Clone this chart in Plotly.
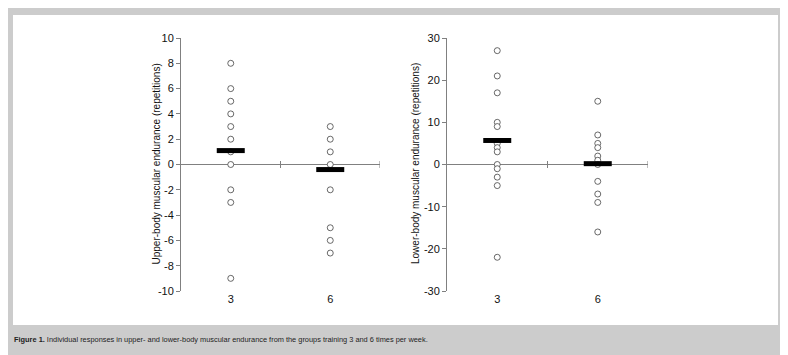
import plotly.graph_objects as go

# ---- data ----
groups = ["3", "6"]
upper_g3 = [8, 6, 5, 4, 3, 2, 1, 0, -2, -3, -9]
upper_g6 = [3, 2, 1, 0, -2, -5, -6, -7]
upper_means = [1.1, -0.4]
lower_g3 = [27, 21, 17, 10, 9, 5, 4, 3, 0, -1, -3, -5, -22]
lower_g6 = [15, 7, 5, 4, 2, 1, 0, -4, -7, -9, -16]
lower_means = [5.7, 0.2]
upper_ticks = list(range(-10, 11, 2))
lower_ticks = list(range(-30, 31, 10))

W, H = 788, 355
OX, OY = 8, 8  # page body margin offset of the plot div


def px(x):
    return (x - OX) / W


def py(y):
    return 1 - (y - OY) / H


fig = go.Figure()


def add_panel(vals3, vals6, means, xa, ya):
    xs = [1] * len(vals3) + [2] * len(vals6)
    ys = vals3 + vals6
    fig.add_trace(go.Scatter(x=xs, y=ys, mode="markers", xaxis=xa, yaxis=ya,
                             marker=dict(symbol="circle", size=6, color="white",
                                         line=dict(color="#444444", width=0.8)),
                             showlegend=False, hoverinfo="y"))
    fig.add_trace(go.Scatter(x=[1, 2], y=means, mode="markers", xaxis=xa, yaxis=ya,
                             marker=dict(symbol="line-ew", size=20,
                                         line=dict(color="black", width=5)),
                             showlegend=False, hoverinfo="y"))
    # small category-boundary ticks on the zero line
    fig.add_trace(go.Scatter(x=[1.5, 2.5], y=[0, 0], mode="markers", xaxis=xa, yaxis=ya,
                             marker=dict(symbol="line-ns", size=5,
                                         line=dict(color="#808080", width=1)),
                             showlegend=False, hoverinfo="skip"))


add_panel(upper_g3, upper_g6, upper_means, "x", "y")
add_panel(lower_g3, lower_g6, lower_means, "x2", "y2")

tfont = dict(family="Liberation Sans, Arial", size=11, color="#111")
ydom = [py(291), py(38)]
xcommon = dict(range=[0.5, 2.5], tickvals=[1, 2], ticktext=groups, showgrid=False,
               zeroline=False, showline=False, ticks="", ticklen=0, automargin=False,
               tickfont=tfont)
ycommon = dict(showgrid=False, zeroline=True, zerolinecolor="#808080", zerolinewidth=1,
               showline=True, linecolor="#808080", linewidth=1, ticks="outside",
               ticklen=4, tickcolor="#808080", automargin=False,
               tickfont=tfont, domain=ydom)

fig.update_layout(
    width=W, height=H,
    margin=dict(l=0, r=0, t=0, b=0, pad=0, autoexpand=False),
    paper_bgcolor="#cccccc", plot_bgcolor="rgba(0,0,0,0)",
    xaxis=dict(domain=[px(181), px(380)], anchor="y", **xcommon),
    xaxis2=dict(domain=[px(447), px(648)], anchor="y2", **xcommon),
    yaxis=dict(range=[-10, 10], tickvals=upper_ticks,
               ticktext=[str(v) for v in upper_ticks], anchor="x", **ycommon),
    yaxis2=dict(range=[-30, 30], tickvals=lower_ticks,
                ticktext=[str(v) for v in lower_ticks], anchor="x2", **ycommon),
    shapes=[dict(type="rect", xref="paper", yref="paper", layer="below",
                 x0=px(13), x1=px(778), y0=py(325), y1=py(15),
                 fillcolor="white", line=dict(width=0))],
    annotations=[
        dict(text="Upper-body muscular endurance (repetitions)", textangle=-90,
             xref="paper", yref="paper", x=px(148), y=py(164), showarrow=False,
             font=dict(family="Liberation Sans, Arial", size=10, color="#111")),
        dict(text="Lower-body muscular endurance (repetitions)", textangle=-90,
             xref="paper", yref="paper", x=px(415), y=py(164), showarrow=False,
             font=dict(family="Liberation Sans, Arial", size=10, color="#111")),
        dict(text="<b>Figure 1.</b> Individual responses in upper- and lower-body muscular endurance from the groups training 3 and 6 times per week.",
             xref="paper", yref="paper", x=px(12), y=py(339.5), xanchor="left",
             yanchor="middle", showarrow=False,
             font=dict(family="Liberation Sans, Arial", size=7.4, color="#222")),
    ],
)

fig.write_html("out.html")
